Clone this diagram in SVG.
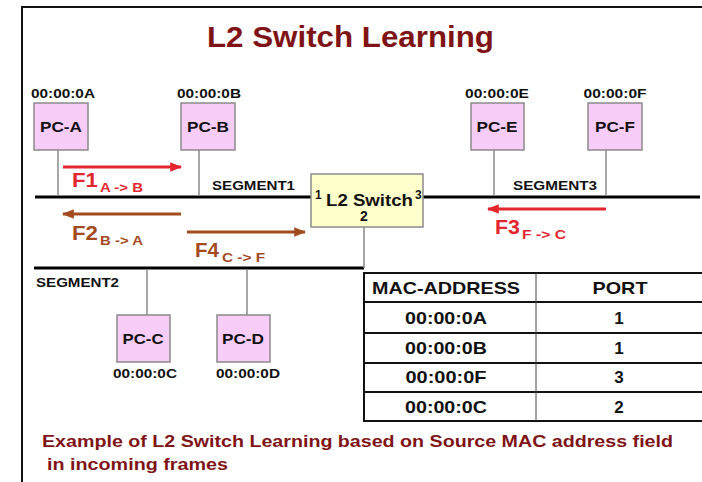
<svg xmlns="http://www.w3.org/2000/svg" width="702" height="482" viewBox="0 0 702 482">
<defs>
<style>
text{font-family:"Liberation Sans",Arial,sans-serif;font-weight:bold}
.pc{fill:#F7CCF7;stroke:#8a8a8a;stroke-width:1.5}
.pcl{font-size:15px;fill:#111;text-anchor:middle}
.mac{font-size:13px;fill:#111;text-anchor:middle}
.drop{stroke:#8a8a8a;stroke-width:1.5}
.seg{stroke:#000;stroke-width:3}
.segl{font-size:13px;fill:#111}
.red{stroke:#E3262E;stroke-width:3}
.brn{stroke:#A34A1F;stroke-width:3}
.fr{font-size:21px;fill:#E3262E}
.fb{font-size:21px;fill:#A34A1F}
.sr{font-size:13px;fill:#E3262E}
.sb{font-size:13px;fill:#A34A1F}
.tb{stroke:#111;stroke-width:2;fill:none}
.tt{font-size:17px;fill:#111;text-anchor:middle}
.cap{font-size:17px;fill:#7F1416}
</style>
<marker id="ar" viewBox="0 0 10 10" refX="9" refY="5" markerWidth="4" markerHeight="4" orient="auto"><path d="M0,1 L10,5 L0,9 z" fill="#E3262E"/></marker>
<marker id="ab" viewBox="0 0 10 10" refX="9" refY="5" markerWidth="4" markerHeight="4" orient="auto"><path d="M0,1 L10,5 L0,9 z" fill="#A34A1F"/></marker>
</defs>
<rect width="702" height="482" fill="#fff"/>
<path d="M22,482 V7 H702" fill="none" stroke="#111" stroke-width="2"/>
<text x="207" y="47" font-size="29" fill="#7F1416" textLength="287" lengthAdjust="spacingAndGlyphs">L2 Switch Learning</text>

<g id="connectors">
<line class="seg" x1="35" y1="197" x2="311" y2="197"/>
<line class="seg" x1="423" y1="197" x2="700" y2="197"/>
<line class="seg" x1="34" y1="268" x2="364" y2="268"/>
<line class="drop" x1="364" y1="227" x2="364" y2="268"/>
<line class="drop" x1="58" y1="150" x2="58" y2="196"/>
<line class="drop" x1="199" y1="150" x2="199" y2="196"/>
<line class="drop" x1="494" y1="150" x2="494" y2="196"/>
<line class="drop" x1="606" y1="150" x2="606" y2="196"/>
<line class="drop" x1="147" y1="269" x2="147" y2="315"/>
<line class="drop" x1="247" y1="269" x2="247" y2="315"/>
<line class="red" x1="63" y1="167" x2="181" y2="167" marker-end="url(#ar)"/>
<line class="brn" x1="181" y1="214" x2="63" y2="214" marker-end="url(#ab)"/>
<line class="brn" x1="187" y1="232" x2="305" y2="232" marker-end="url(#ab)"/>
<line class="red" x1="606" y1="209" x2="488" y2="209" marker-end="url(#ar)"/>
</g>

<text class="segl" x="212" y="190" textLength="83" lengthAdjust="spacingAndGlyphs">SEGMENT1</text>
<text class="segl" x="513" y="190" textLength="84" lengthAdjust="spacingAndGlyphs">SEGMENT3</text>
<text class="segl" x="36" y="287" textLength="83" lengthAdjust="spacingAndGlyphs">SEGMENT2</text>

<text class="fr" x="72" y="187" textLength="26" lengthAdjust="spacingAndGlyphs">F1</text>
<text class="sr" x="100" y="192" textLength="43" lengthAdjust="spacingAndGlyphs">A -&gt; B</text>
<text class="fb" x="72" y="240" textLength="26" lengthAdjust="spacingAndGlyphs">F2</text>
<text class="sb" x="100" y="245" textLength="43" lengthAdjust="spacingAndGlyphs">B -&gt; A</text>
<text class="fb" x="195" y="257" textLength="24" lengthAdjust="spacingAndGlyphs">F4</text>
<text class="sb" x="222" y="262" textLength="43" lengthAdjust="spacingAndGlyphs">C -&gt; F</text>
<text class="fr" x="495" y="234" textLength="25" lengthAdjust="spacingAndGlyphs">F3</text>
<text class="sr" x="522" y="239" textLength="44" lengthAdjust="spacingAndGlyphs">F -&gt; C</text>

<g id="pc-a"><rect class="pc" x="34" y="103" width="54" height="47"/><text class="pcl" x="61" y="132" textLength="42" lengthAdjust="spacingAndGlyphs">PC-A</text><text class="mac" x="63" y="98" textLength="64" lengthAdjust="spacingAndGlyphs">00:00:0A</text></g>
<g id="pc-b"><rect class="pc" x="181" y="103" width="54" height="47"/><text class="pcl" x="208" y="132" textLength="42" lengthAdjust="spacingAndGlyphs">PC-B</text><text class="mac" x="209" y="98" textLength="64" lengthAdjust="spacingAndGlyphs">00:00:0B</text></g>
<g id="pc-e"><rect class="pc" x="471" y="103" width="53" height="47"/><text class="pcl" x="497" y="132" textLength="41" lengthAdjust="spacingAndGlyphs">PC-E</text><text class="mac" x="497" y="98" textLength="64" lengthAdjust="spacingAndGlyphs">00:00:0E</text></g>
<g id="pc-f"><rect class="pc" x="588" y="103" width="54" height="47"/><text class="pcl" x="615" y="132" textLength="40" lengthAdjust="spacingAndGlyphs">PC-F</text><text class="mac" x="615" y="98" textLength="63" lengthAdjust="spacingAndGlyphs">00:00:0F</text></g>
<g id="pc-c"><rect class="pc" x="117" y="315" width="53" height="47"/><text class="pcl" x="143" y="344" textLength="41" lengthAdjust="spacingAndGlyphs">PC-C</text><text class="mac" x="145" y="378" textLength="64" lengthAdjust="spacingAndGlyphs">00:00:0C</text></g>
<g id="pc-d"><rect class="pc" x="217" y="315" width="53" height="47"/><text class="pcl" x="243" y="344" textLength="42" lengthAdjust="spacingAndGlyphs">PC-D</text><text class="mac" x="248" y="378" textLength="64" lengthAdjust="spacingAndGlyphs">00:00:0D</text></g>

<g id="switch">
<rect x="311" y="174" width="112" height="53" fill="#FFFFCC" stroke="#8a8a8a" stroke-width="1.5"/>
<text x="315" y="199" font-size="12" fill="#111">1</text>
<text x="326" y="206" font-size="16" fill="#111" textLength="87" lengthAdjust="spacingAndGlyphs">L2 Switch</text>
<text x="415" y="199" font-size="12" fill="#111">3</text>
<text x="364" y="221" text-anchor="middle" font-size="14" fill="#111">2</text>
</g>

<g id="mac-table">
<path class="tb" d="M704,273 H364 V421 H704"/>
<line class="tb" x1="364" y1="302" x2="704" y2="302"/>
<line class="tb" x1="364" y1="333" x2="704" y2="333"/>
<line class="tb" x1="364" y1="363" x2="704" y2="363"/>
<line class="tb" x1="364" y1="392" x2="704" y2="392"/>
<line x1="536" y1="273" x2="536" y2="421" stroke="#444" stroke-width="1"/>
<text class="tt" x="446" y="294" textLength="148" lengthAdjust="spacingAndGlyphs">MAC-ADDRESS</text><text class="tt" x="620" y="294" textLength="55" lengthAdjust="spacingAndGlyphs">PORT</text>
<text class="tt" x="446" y="324" textLength="82" lengthAdjust="spacingAndGlyphs">00:00:0A</text><text class="tt" x="619" y="324">1</text>
<text class="tt" x="446" y="354" textLength="82" lengthAdjust="spacingAndGlyphs">00:00:0B</text><text class="tt" x="619" y="354">1</text>
<text class="tt" x="446" y="383" textLength="81" lengthAdjust="spacingAndGlyphs">00:00:0F</text><text class="tt" x="619" y="383">3</text>
<text class="tt" x="446" y="413" textLength="82" lengthAdjust="spacingAndGlyphs">00:00:0C</text><text class="tt" x="619" y="413">2</text>
</g>

<text class="cap" x="42" y="447" textLength="631" lengthAdjust="spacingAndGlyphs">Example of L2 Switch Learning based on Source MAC address field</text>
<text class="cap" x="47" y="470" textLength="181" lengthAdjust="spacingAndGlyphs">in incoming frames</text>
</svg>
